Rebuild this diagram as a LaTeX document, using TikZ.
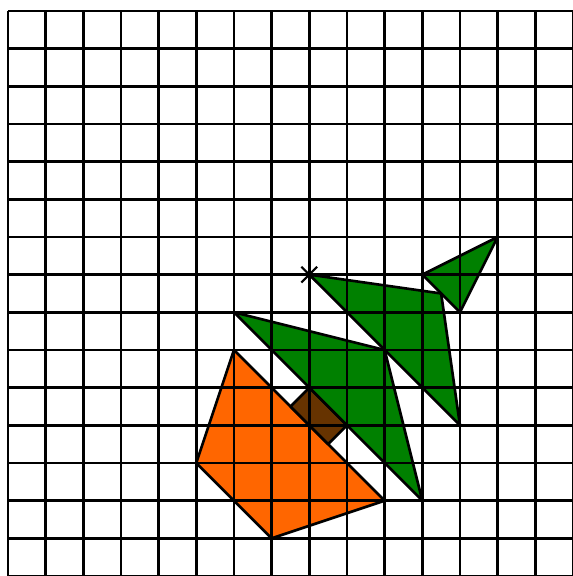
\documentclass[tikz,border=0pt]{standalone}
\usepackage{xcolor}
\usetikzlibrary{positioning, calc}

\definecolor{leafgreen}{HTML}{008000}
\definecolor{potorange}{HTML}{FF6600}
\definecolor{trunkbrown}{HTML}{663300}

\begin{document}
\begin{tikzpicture}[y=-1cm, line join=round,
    piece/.style={draw=black, line width=2pt},
    gridline/.style={draw=black, line width=2pt}]
    \useasboundingbox (-0.21,-0.29) rectangle (15.0,15.0);
    \clip (-0.21,-0.29) rectangle (15.0,15.0);

    % corners of the tree
    \coordinate (p1) at (6,9);
    \coordinate (p2) at (5,12);
    \coordinate (p3) at (7,14);
    \coordinate (p4) at (10,13);
    \coordinate (t1) at (7.5,10.5);
    \coordinate (t2) at (8,10);
    \coordinate (t3) at (9,11);
    \coordinate (t4) at (8.5,11.5);
    \coordinate (a1) at (6,8);
    \coordinate (a2) at (10,9);
    \coordinate (a3) at (11,13);
    \coordinate (b1) at (8,7);
    \coordinate (b2) at (11.5,7.5);
    \coordinate (b3) at (12,11);
    \coordinate (c1) at (11,7);
    \coordinate (c2) at (13,6);
    \coordinate (c3) at (12,8);

    \filldraw[piece, fill=potorange] (p1) -- (p2) -- (p3) -- (p4) -- cycle;
    \filldraw[piece, fill=trunkbrown] (t1) -- (t2) -- (t3) -- (t4) -- cycle;
    \filldraw[piece, fill=leafgreen] (a1) -- (a2) -- (a3) -- cycle;
    \filldraw[piece, fill=leafgreen] (b1) -- (b2) -- (b3) -- cycle;
    \filldraw[piece, fill=leafgreen] (c1) -- (c2) -- (c3) -- cycle;

    % grid on top
    \foreach \i in {0,...,15} {
        \draw[gridline] (\i,0) -- (\i,15.5);
        \draw[gridline] (0,\i) -- (15.5,\i);
    }

    % the cross
    \draw[line width=1.6pt] ($(b1)+(-0.21,-0.21)$) -- ($(b1)+(0.21,0.21)$)
        ($(b1)+(-0.21,0.21)$) -- ($(b1)+(0.21,-0.21)$);
\end{tikzpicture}
\end{document}
